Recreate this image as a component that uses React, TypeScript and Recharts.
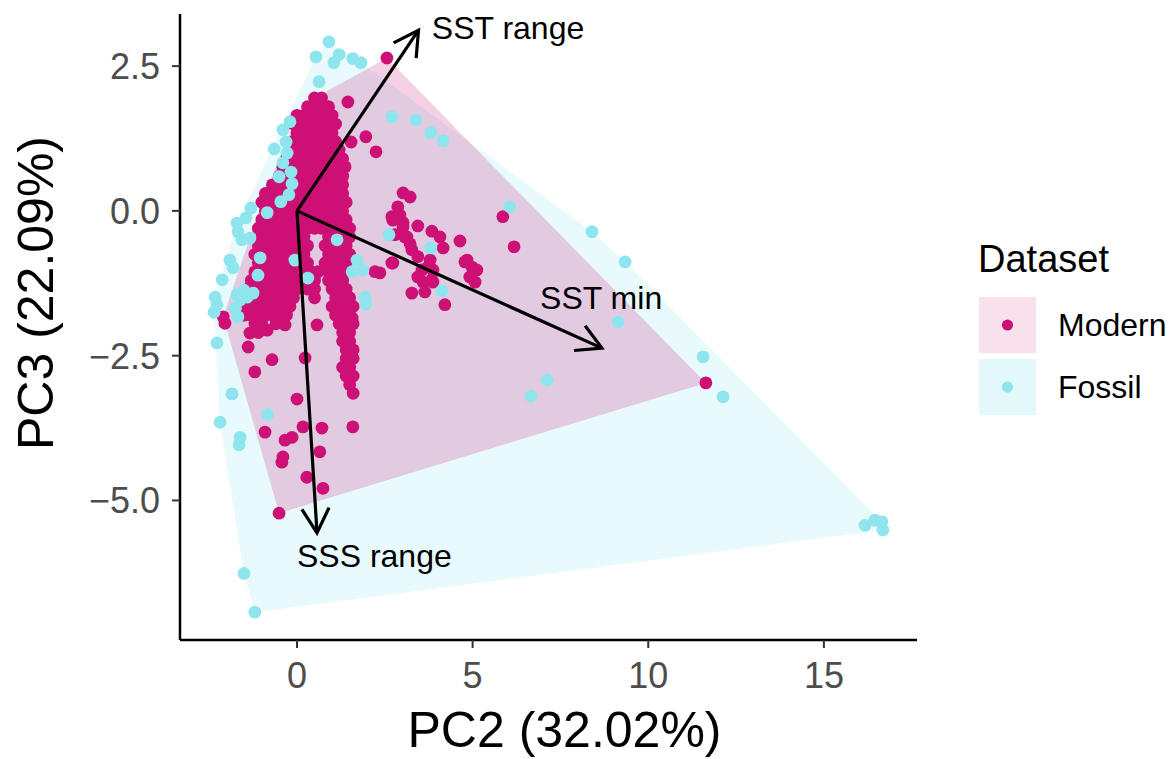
import React from 'react';
import { ScatterChart, Scatter, XAxis, YAxis, Legend, Label } from 'recharts';

const FONT = '"Liberation Sans", Arial, Helvetica, sans-serif';
const MODERN_COLOR = '#CD1076';
const FOSSIL_COLOR = '#8EE5EE';

const xTicks = [0, 5, 10, 15];
const yTicks = [-5, -2.5, 0, 2.5];
const xDomain: [number, number] = [-3.33, 17.65];
const yDomain: [number, number] = [-7.41, 3.4];

const datasetNames = ['Modern', 'Fossil'];
const xTitle = 'PC2 (32.02%)';
const yTitle = 'PC3 (22.09%)';
const legendTitle = 'Dataset';

// Modern samples (PC2, PC3)
const modernPoints: [number, number][] = [
  [0.5, 1.95], [0.7, 1.95],
  [0.3, 1.8], [0.5, 1.8], [0.7, 1.8], [0.9, 1.8],
  [0.0, 1.65], [0.2, 1.65], [0.4, 1.65], [0.6, 1.65], [0.8, 1.65], [1.0, 1.65],
  [-0.1, 1.5], [0.1, 1.5], [0.3, 1.5], [0.5, 1.5], [0.7, 1.5], [0.9, 1.5], [1.1, 1.5],
  [0.0, 1.35], [0.2, 1.35], [0.4, 1.35], [0.6, 1.35], [0.8, 1.35], [1.0, 1.35],
  [-0.1, 1.2], [0.1, 1.2], [0.3, 1.2], [0.5, 1.2], [0.7, 1.2], [0.9, 1.2], [1.1, 1.2],
  [-0.2, 1.05], [0.0, 1.05], [0.2, 1.05], [0.4, 1.05], [0.6, 1.05], [0.8, 1.05], [1.0, 1.05], [1.2, 1.05],
  [-0.3, 0.9], [-0.1, 0.9], [0.1, 0.9], [0.3, 0.9], [0.5, 0.9], [0.7, 0.9], [0.9, 0.9], [1.1, 0.9], [1.3, 0.9],
  [-0.4, 0.75], [-0.2, 0.75], [0.0, 0.75], [0.2, 0.75], [0.4, 0.75], [0.6, 0.75], [0.8, 0.75], [1.0, 0.75], [1.2, 0.75],
  [-0.5, 0.6], [-0.3, 0.6], [-0.1, 0.6], [0.1, 0.6], [0.3, 0.6], [0.5, 0.6], [0.7, 0.6], [0.9, 0.6], [1.1, 0.6], [1.3, 0.6],
  [-0.7, 0.45], [-0.5, 0.45], [-0.3, 0.45], [-0.1, 0.45], [0.1, 0.45], [0.3, 0.45], [0.5, 0.45], [0.7, 0.45], [0.9, 0.45], [1.1, 0.45], [1.3, 0.45],
  [-0.9, 0.3], [-0.7, 0.3], [-0.5, 0.3], [-0.3, 0.3], [-0.1, 0.3], [0.1, 0.3], [0.3, 0.3], [0.5, 0.3], [0.7, 0.3], [0.9, 0.3], [1.1, 0.3], [1.3, 0.3],
  [-1.0, 0.15], [-0.8, 0.15], [-0.6, 0.15], [-0.4, 0.15], [-0.2, 0.15], [0.0, 0.15], [0.2, 0.15], [0.4, 0.15], [0.6, 0.15], [0.8, 0.15], [1.0, 0.15], [1.2, 0.15], [1.4, 0.15],
  [-0.9, 0.0], [-0.7, 0.0], [-0.5, 0.0], [-0.3, 0.0], [-0.1, 0.0], [0.1, 0.0], [0.3, 0.0], [0.5, 0.0], [0.7, 0.0], [0.9, 0.0], [1.1, 0.0], [1.3, 0.0],
  [-1.0, -0.15], [-0.8, -0.15], [-0.6, -0.15], [-0.4, -0.15], [-0.2, -0.15], [0.0, -0.15], [0.2, -0.15], [0.4, -0.15], [0.6, -0.15], [0.8, -0.15], [1.0, -0.15], [1.2, -0.15], [1.4, -0.15],
  [-1.1, -0.3], [-0.9, -0.3], [-0.7, -0.3], [-0.5, -0.3], [-0.3, -0.3], [-0.1, -0.3], [0.1, -0.3], [0.3, -0.3], [0.5, -0.3], [0.7, -0.3], [0.9, -0.3], [1.1, -0.3], [1.3, -0.3], [1.5, -0.3],
  [-1.0, -0.45], [-0.8, -0.45], [-0.6, -0.45], [-0.4, -0.45], [-0.2, -0.45], [0.0, -0.45], [0.2, -0.45], [0.9, -0.45], [1.1, -0.45], [1.3, -0.45], [1.5, -0.45],
  [-1.1, -0.6], [-0.9, -0.6], [-0.7, -0.6], [-0.5, -0.6], [-0.3, -0.6], [-0.1, -0.6], [0.1, -0.6], [0.3, -0.6], [0.8, -0.6], [1.0, -0.6], [1.2, -0.6], [1.4, -0.6],
  [-1.2, -0.75], [-1.0, -0.75], [-0.8, -0.75], [-0.6, -0.75], [-0.4, -0.75], [-0.2, -0.75], [0.0, -0.75], [0.2, -0.75], [0.9, -0.75], [1.1, -0.75], [1.3, -0.75], [1.5, -0.75],
  [-1.1, -0.9], [-0.9, -0.9], [-0.7, -0.9], [-0.5, -0.9], [-0.3, -0.9], [-0.1, -0.9], [0.1, -0.9], [0.3, -0.9], [0.8, -0.9], [1.0, -0.9], [1.2, -0.9], [1.4, -0.9],
  [-1.2, -1.05], [-1.0, -1.05], [-0.8, -1.05], [-0.6, -1.05], [-0.4, -1.05], [-0.2, -1.05], [0.0, -1.05], [0.2, -1.05], [0.4, -1.05], [0.6, -1.05], [0.9, -1.05], [1.1, -1.05], [1.3, -1.05],
  [-1.3, -1.2], [-1.1, -1.2], [-0.9, -1.2], [-0.7, -1.2], [-0.5, -1.2], [-0.3, -1.2], [-0.1, -1.2], [0.1, -1.2], [0.3, -1.2], [0.5, -1.2], [0.9, -1.2], [1.1, -1.2], [1.3, -1.2],
  [-1.4, -1.35], [-1.2, -1.35], [-1.0, -1.35], [-0.8, -1.35], [-0.6, -1.35], [-0.4, -1.35], [-0.2, -1.35], [0.0, -1.35], [0.3, -1.35], [0.5, -1.35], [1.0, -1.35], [1.2, -1.35], [1.4, -1.35],
  [-1.3, -1.5], [-1.1, -1.5], [-0.9, -1.5], [-0.7, -1.5], [-0.5, -1.5], [-0.3, -1.5], [-0.1, -1.5], [0.5, -1.5], [1.1, -1.5], [1.3, -1.5], [1.5, -1.5],
  [-1.4, -1.65], [-1.2, -1.65], [-1.0, -1.65], [-0.8, -1.65], [-0.6, -1.65], [-0.4, -1.65], [-0.2, -1.65], [1.0, -1.65], [1.2, -1.65], [1.4, -1.65], [1.6, -1.65],
  [-1.5, -1.8], [-1.3, -1.8], [-1.1, -1.8], [-0.9, -1.8], [-0.7, -1.8], [-0.5, -1.8], [-0.3, -1.8], [1.1, -1.8], [1.3, -1.8], [1.5, -1.8],
  [-1.2, -1.95], [-1.0, -1.95], [-0.6, -1.95], [1.2, -1.95], [1.4, -1.95], [1.6, -1.95],
  [-1.1, -2.1], [1.3, -2.1], [1.5, -2.1],
  [1.3, -2.25], [1.5, -2.25],
  [1.4, -2.4], [1.6, -2.4],
  [1.4, -2.55], [1.6, -2.55],
  [1.3, -2.7], [1.5, -2.7],
  [1.4, -2.85], [1.6, -2.85],
  [1.5, -3.0], [1.6, -3.15],
  // scattered modern samples
  [1.45, 1.88], [1.96, 1.28], [2.25, 1.02], [1.54, 1.19], [1.37, 0.76], [2.56, 2.64],
  [-2.05, -1.94], [-1.34, -2.11], [-0.85, -2.06], [-0.34, -1.97], [-1.39, -2.35], [-0.71, -2.57],
  [-1.2, -2.78], [0.23, -2.54], [0.57, -1.97], [0.0, -3.25], [-0.91, -3.82], [-0.34, -3.96],
  [-0.14, -3.91], [0.17, -3.73], [0.71, -3.75], [1.59, -3.73], [-0.4, -4.25], [-0.43, -4.34],
  [0.65, -4.16], [0.28, -4.6], [0.74, -4.79], [-0.51, -5.22], [-2.1, -1.83],
  [2.22, -1.05], [2.7, -0.9], [1.57, -1.85],
  [3.02, 0.31], [3.22, 0.24], [2.87, 0.07], [2.73, -0.16], [2.93, -0.07], [3.02, -0.28], [3.13, -0.45],
  [3.44, -0.26], [3.84, -0.35], [4.07, -0.45], [4.16, -0.64], [3.27, -0.67], [3.44, -0.79], [3.56, -1.02],
  [3.79, -0.85], [3.87, -1.02], [3.84, -1.19], [3.44, -1.14], [3.64, -1.4], [3.27, -1.42], [2.73, -0.9],
  [2.36, -1.07], [4.64, -0.52], [4.84, -0.85], [4.98, -0.97], [5.12, -1.02], [4.92, -1.14], [5.07, -1.23],
  [4.78, -0.88], [4.21, -1.62], [5.86, -0.1], [6.18, -0.62], [2.7, -0.1], [2.79, -0.41], [3.07, -0.45],
  [3.59, -1.23], [3.87, -1.23], [3.73, -0.97], [3.22, -0.57], [3.02, -0.2],
  [11.64, -2.97],
];

// Fossil samples (PC2, PC3)
const fossilPoints: [number, number][] = [
  [0.91, 2.92], [0.54, 2.66], [1.2, 2.7], [1.05, 2.56], [1.59, 2.63], [1.82, 2.56], [0.63, 2.23],
  [2.7, 1.62], [3.39, 1.57], [3.81, 1.35], [4.16, 1.21],
  [-0.2, 1.54], [-0.4, 1.4], [-0.31, 1.19], [-0.65, 1.07], [-0.28, 1.0], [-0.4, 0.83], [-0.17, 0.67],
  [-0.51, 0.59], [-0.14, 0.47], [-0.23, 0.28], [-0.46, 0.16],
  [-0.85, -0.03], [-1.31, 0.05], [-1.45, -0.12], [-1.71, -0.21], [-1.68, -0.36], [-1.57, -0.5], [-1.34, -0.47],
  [-1.91, -0.85], [-1.82, -0.98], [-2.13, -1.19], [-2.33, -1.49], [-2.28, -1.62], [-2.36, -1.75],
  [-1.71, -1.45], [-1.62, -1.54], [-1.42, -1.49], [-1.25, -1.42], [-1.51, -1.37], [-1.76, -1.68], [-1.68, -1.83],
  [-1.05, -0.81], [-1.11, -1.11], [-0.06, -0.85], [0.31, -1.16],
  [1.14, -0.5], [1.71, -0.85], [1.88, -1.02], [1.57, -1.05], [1.94, -1.49], [1.96, -1.61],
  [2.62, -0.41], [3.81, -0.64], [4.13, -1.38],
  [-2.28, -2.28], [-1.85, -3.16], [-2.19, -3.65], [-0.83, -3.51], [-1.62, -3.91], [-1.65, -4.04],
  [-1.51, -6.26], [-1.2, -6.93],
  [6.06, 0.07], [8.4, -0.36], [9.34, -0.88], [9.14, -1.92], [11.56, -2.52], [12.13, -3.21],
  [7.12, -2.92], [6.66, -3.2],
  [16.17, -5.43], [16.45, -5.34], [16.65, -5.37], [16.68, -5.51],
];

// Loading vectors: names, arrow tips, label anchors
const loadingNames = ['SST range', 'SST min', 'SSS range'];
const loadingTips: [number, number][] = [[3.46, 3.12], [8.68, -2.37], [0.57, -5.56]];
const loadingLabelPos: [number, number][] = [[3.84, 3.16], [6.92, -1.49], [0.0, -5.96]];

function convexHull(pts: [number, number][]): [number, number][] {
  const s = [...pts].sort((a, b) => a[0] - b[0] || a[1] - b[1]);
  const cross = (o: number[], a: number[], b: number[]) =>
    (a[0] - o[0]) * (b[1] - o[1]) - (a[1] - o[1]) * (b[0] - o[0]);
  const lower: [number, number][] = [];
  for (const p of s) {
    while (lower.length >= 2 && cross(lower[lower.length - 2], lower[lower.length - 1], p) <= 0) lower.pop();
    lower.push(p);
  }
  const upper: [number, number][] = [];
  for (let i = s.length - 1; i >= 0; i--) {
    const p = s[i];
    while (upper.length >= 2 && cross(upper[upper.length - 2], upper[upper.length - 1], p) <= 0) upper.pop();
    upper.push(p);
  }
  return lower.slice(0, -1).concat(upper.slice(0, -1));
}

const toObj = (arr: [number, number][]) => arr.map(([x, y]) => ({ x, y }));

const modernData = toObj(modernPoints);
const fossilData = toObj(fossilPoints);
const modernHull = toObj(convexHull(modernPoints));
const fossilHull = toObj(convexHull(fossilPoints));
const labelData = loadingNames.map((name, i) => ({ x: loadingLabelPos[i][0], y: loadingLabelPos[i][1], name }));

const fmtY = (v: number) => (v < 0 ? '\u2212' : '') + Math.abs(v).toFixed(1);

const TICK_FS = 36;
const YTick = (props: any) => {
  const { x, y, payload } = props;
  return (
    <text x={x} y={y + 0.358 * TICK_FS} textAnchor="end" fontSize={TICK_FS} fill="#4D4D4D" fontFamily={FONT}>
      {fmtY(payload.value)}
    </text>
  );
};
const XTick = (props: any) => {
  const { x, y, payload } = props;
  return (
    <text x={x} y={y + 0.716 * TICK_FS} textAnchor="middle" fontSize={TICK_FS} fill="#4D4D4D" fontFamily={FONT}>
      {payload.value}
    </text>
  );
};

const hullLine = (fill: string) => (props: any) => {
  const pts = (props.points || []).filter((p: any) => p && p.x != null && p.y != null);
  if (!pts.length) return <g />;
  return (
    <polygon
      points={pts.map((p: any) => `${p.x},${p.y}`).join(' ')}
      fill={fill}
      fillOpacity={0.2}
      stroke="none"
    />
  );
};

const arrowLine = (props: any) => {
  const pts = props.points || [];
  if (pts.length < 2) return <g />;
  const a = pts[0];
  const b = pts[1];
  const ang = Math.atan2(b.y - a.y, b.x - a.x);
  const L = 28;
  const h = Math.PI / 6.2;
  const p1 = [b.x - L * Math.cos(ang - h), b.y - L * Math.sin(ang - h)];
  const p2 = [b.x - L * Math.cos(ang + h), b.y - L * Math.sin(ang + h)];
  return (
    <g>
      <line x1={a.x} y1={a.y} x2={b.x} y2={b.y} stroke="#000" strokeWidth={3.2} />
      <polyline
        points={`${p1[0]},${p1[1]} ${b.x},${b.y} ${p2[0]},${p2[1]}`}
        fill="none"
        stroke="#000"
        strokeWidth={3.2}
        strokeLinejoin="miter"
      />
    </g>
  );
};

const dot = (color: string) => (props: any) => {
  if (props.cx == null || props.cy == null) return <g />;
  return <circle cx={props.cx} cy={props.cy} r={6.4} fill={color} />;
};

const empty = () => <g />;

const LABEL_FS = 32;
const labelShape = (props: any) => {
  if (props.cx == null) return <g />;
  return (
    <text x={props.cx} y={props.cy + 0.358 * LABEL_FS} fontSize={LABEL_FS} fontFamily={FONT} fill="#000">
      {props.payload?.name}
    </text>
  );
};

const LegendBox = () => (
  <svg width={208} height={210} style={{ overflow: 'visible', display: 'block' }}>
    <text x={13} y={47} fontSize={38} fontFamily={FONT} fill="#000">{legendTitle}</text>
    <rect x={14} y={72} width={57} height={56} fill="#F8E1EC" />
    <circle cx={42.5} cy={100} r={5.6} fill={MODERN_COLOR} />
    <text x={93} y={100 + 0.358 * 32} fontSize={32} fontFamily={FONT} fill="#000">{datasetNames[0]}</text>
    <rect x={14} y={134} width={57} height={56} fill="#E2F8F9" />
    <circle cx={42.5} cy={162} r={5.6} fill={FOSSIL_COLOR} />
    <text x={93} y={162 + 0.358 * 32} fontSize={32} fontFamily={FONT} fill="#000">{datasetNames[1]}</text>
  </svg>
);

const TITLE_FS = 50;
const XTitle = (props: any) => {
  const vb = props.viewBox || { x: 180, y: 640, width: 737, height: 119 };
  return (
    <text x={vb.x + vb.width / 2 + 16} y={vb.y + 107} textAnchor="middle" fontSize={TITLE_FS} fontFamily={FONT} fill="#000">
      {xTitle}
    </text>
  );
};
const YTitle = (props: any) => {
  const vb = props.viewBox || { x: 0, y: 14, width: 180, height: 626 };
  const cx = 53;
  const cy = vb.y + vb.height / 2 - 34;
  return (
    <text x={cx} y={cy} textAnchor="middle" fontSize={TITLE_FS} fontFamily={FONT} fill="#000" transform={`rotate(-90 ${cx} ${cy})`}>
      {yTitle}
    </text>
  );
};

export default function App() {
  return (
    <div style={{ position: 'absolute', left: 0, top: 0, width: 1173, height: 759, background: '#fff' }}>
      <ScatterChart width={1173} height={759} margin={{ top: 14, right: 256, bottom: 0, left: 0 }}>
        <XAxis
          type="number"
          dataKey="x"
          domain={xDomain}
          ticks={xTicks}
          allowDataOverflow
          height={119}
          tickSize={8}
          tickMargin={14}
          tick={<XTick />}
          axisLine={{ stroke: '#000', strokeWidth: 2.5 }}
          tickLine={{ stroke: '#333', strokeWidth: 2 }}
          label={<Label content={<XTitle />} />}
        />
        <YAxis
          type="number"
          dataKey="y"
          domain={yDomain}
          ticks={yTicks}
          allowDataOverflow
          width={180}
          tickSize={8}
          tickMargin={12}
          tick={<YTick />}
          axisLine={{ stroke: '#000', strokeWidth: 2.5 }}
          tickLine={{ stroke: '#333', strokeWidth: 2 }}
          label={<Label content={<YTitle />} />}
        />
        <Legend
          layout="horizontal"
          verticalAlign="middle"
          align="center"
          wrapperStyle={{ left: 965, top: 225, width: 208, height: 210 }}
          content={() => <LegendBox />}
        />
        <Scatter name="Fossil hull" data={fossilHull} fill={FOSSIL_COLOR} line={hullLine(FOSSIL_COLOR)} shape={empty} isAnimationActive={false} legendType="none" />
        <Scatter name="Modern hull" data={modernHull} fill={MODERN_COLOR} line={hullLine(MODERN_COLOR)} shape={empty} isAnimationActive={false} legendType="none" />
        <Scatter name={datasetNames[0]} data={modernData} fill={MODERN_COLOR} shape={dot(MODERN_COLOR)} isAnimationActive={false} />
        <Scatter name={datasetNames[1]} data={fossilData} fill={FOSSIL_COLOR} shape={dot(FOSSIL_COLOR)} isAnimationActive={false} />
        {loadingTips.map((tip, i) => (
          <Scatter
            key={loadingNames[i]}
            name={loadingNames[i]}
            data={[{ x: 0, y: 0 }, { x: tip[0], y: tip[1] }]}
            fill="#000"
            line={arrowLine}
            shape={empty}
            isAnimationActive={false}
            legendType="none"
          />
        ))}
        <Scatter name="labels" data={labelData} fill="#000" shape={labelShape} isAnimationActive={false} legendType="none" />
      </ScatterChart>
    </div>
  );
}
